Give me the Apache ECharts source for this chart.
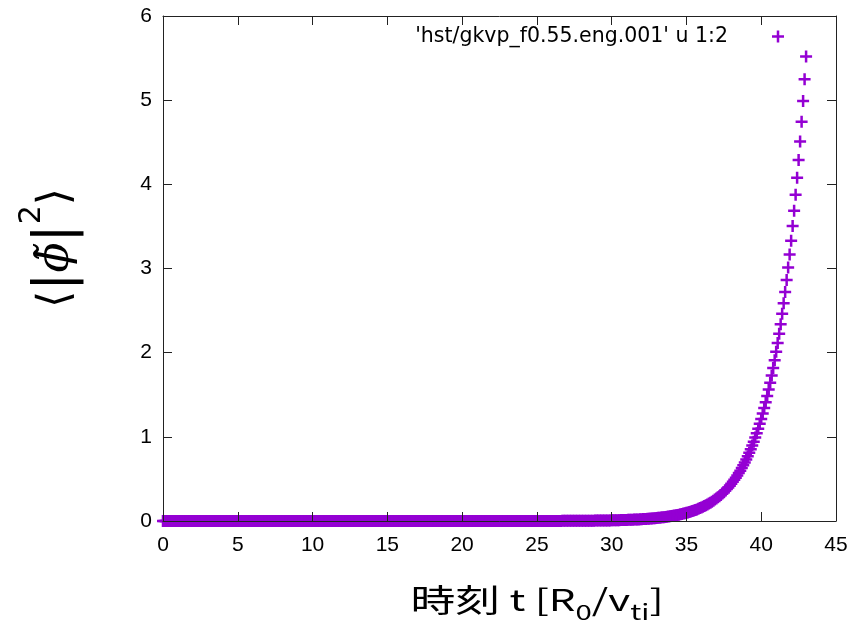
<!DOCTYPE html>
<html>
<head>
<meta charset="utf-8">
<script src="https://cdn.jsdelivr.net/npm/echarts@6/dist/echarts.min.js"></script>
<style>
  html, body { margin: 0; padding: 0; background: #fff; }
  #chart { width: 852px; height: 634px; }
</style>
</head>
<body>
<div id="chart"></div>
<script>
// Sampling interval of the energy history (time in R0/vti units)
const timeStep = 0.1;

// <|phi~|^2> sampled every timeStep, starting at t = 0
const phiSq = [
  // t = 0.0 .. 24.9
  0,0,0,0,0,0,0,0,0,0, 0,0,0,0,0,0,0,0,0,0, 0,0,0,0,0,0,0,0,0,0, 0,0,0,0,0,0,0,0,0,0, 0,0,0,0,0,0,0,0,0,0,
  0,0,0,0,0,0,0,0,0,0, 0,0,0,0,0,0,0,0,0,0, 0,0,0,0,0,0,0,0,0,0, 0,0,0,0,0,0,0,0,0,0, 0,0,0,0,0,0,0,0,0,0,
  0,0,0,0,0,0,0,0,0,0, 0,0,0,0,0,0,0,0,0,0, 0,0,0,0,0,0,0,0,0,0, 0,0,0,0,0,0,0,0,0,0, 0,0,0,0,0,0,0,0,0,0,
  0,0,0,0,0,0,0,0,0,0, 0,0,0,0,0,0,0,0,0,0, 0,0,0,0,0,0,0,0,0,0, 0,0,0,0,0,0,0,0,0,0, 0,0,0,0,0,0,0,0,0,0,
  0,0,0,0,0,0,0,0,0,0, 0,0,0,0,0,0,0,0,0,0, 0,0,0,0,0,0,0,0,0,0, 0,0,0,0,0,0,0,0,0,0, 0,0,0,0,0,0,0,0,0,0,
  // t = 25.0
  0.0006,
  0.0007,0.0007,0.0007,0.0008,0.0008,0.0008,0.0009,0.0009,0.0010,0.0010,
  0.0011,0.0011,0.0012,0.0013,0.0013,0.0014,0.0015,0.0015,0.0016,0.0017,
  0.0018,0.0019,0.0020,0.0021,0.0022,0.0023,0.0024,0.0026,0.0027,0.0028,
  0.0030,0.0031,0.0033,0.0035,0.0036,0.0038,0.0040,0.0042,0.0045,0.0047,
  0.0049,0.0052,0.0055,0.0057,0.0060,0.0064,0.0067,0.0070,0.0074,0.0078,
  0.0082,0.0086,0.0090,0.0095,0.0100,0.0105,0.0111,0.0116,0.0123,0.0129,
  0.0136,0.0143,0.0150,0.0158,0.0166,0.0174,0.0184,0.0193,0.0203,0.0214,
  0.0225,0.0236,0.0248,0.0261,0.0275,0.0289,0.0304,0.0320,0.0336,0.0354,
  0.0372,0.0391,0.0412,0.0433,0.0455,0.0479,0.0504,0.0530,0.0557,0.0586,
  0.0617,0.0649,0.0682,0.0717,0.0755,0.0794,0.0835,0.0878,0.0924,0.0971,
  0.102,0.107,0.113,0.119,0.125,0.132,0.138,0.145,0.153,0.161,
  0.169,0.178,0.187,0.197,0.207,0.218,0.229,0.241,0.254,0.267,
  0.281,0.295,0.310,0.326,0.343,0.361,0.380,0.399,0.420,0.442,
  0.465,0.489,0.514,0.541,0.569,0.598,0.629,0.662,0.696,0.732,
  0.770,0.810,0.852,0.896,0.943,0.991,1.043,1.097,1.154,1.213,
  1.276,1.342,1.412,1.485,1.562,1.643,1.728,1.817,1.911,2.010,
  2.115,2.224,2.339,2.461,2.588,2.722,2.863,3.011,3.167,3.331,
  3.504,3.685,3.876,4.077,4.288,4.510,4.744,4.990,5.248,5.520
];

// Axis ranges and tick spacing
const xRange = [0, 45];
const xInterval = 5;
const yRange = [0, 6];
const yInterval = 1;

const seriesName = "'hst/gkvp_f0.55.eng.001' u 1:2";

// gnuplot-style "+" point as a filled cross
const plusPath = 'path://M9.5,0h5v9.5h9.5v5h-9.5v9.5h-5v-9.5h-9.5v-5h9.5z';
const pointColor = '#9400D3';

const points = phiSq.map((v, i) => [Math.round(i * timeStep * 10) / 10, v]);

function tickFont(extra) {
  return Object.assign({ fontFamily: 'Liberation Sans, Arial, sans-serif', fontSize: 21, color: '#000' }, extra || {});
}
function frameLine() {
  return { show: true, onZero: false, lineStyle: { color: '#222', width: 1 } };
}
function innerTick() {
  return { show: true, inside: true, length: 9, lineStyle: { color: '#222', width: 1 } };
}
function makeAxis(position, range, interval, label) {
  return {
    type: 'value',
    position: position,
    min: range[0],
    max: range[1],
    interval: interval,
    z: 5,
    axisLine: frameLine(),
    axisTick: innerTick(),
    splitLine: { show: false },
    axisLabel: label
  };
}

const chart = echarts.init(document.getElementById('chart'), null, { renderer: 'canvas' });

chart.setOption({
  animation: false,
  backgroundColor: '#fff',
  grid: { left: 163, right: 16, top: 16, bottom: 113 },
  legend: {
    data: [{ name: seriesName, icon: plusPath }],
    align: 'right',
    right: 63,
    top: 21,
    itemWidth: 12,
    itemHeight: 12,
    textStyle: {
      fontFamily: 'DejaVu Sans',
      fontSize: 20.5,
      color: '#000',
      padding: [0, 39, 0, 0]
    }
  },
  xAxis: [
    makeAxis('bottom', xRange, xInterval, tickFont({ margin: 14 })),
    makeAxis('top', xRange, xInterval, { show: false })
  ],
  yAxis: [
    makeAxis('left', yRange, yInterval, tickFont({ margin: 11 })),
    makeAxis('right', yRange, yInterval, { show: false })
  ],
  series: [
    {
      name: seriesName,
      type: 'scatter',
      xAxisIndex: 0,
      yAxisIndex: 0,
      data: points,
      symbol: plusPath,
      symbolSize: 12,
      clip: false,
      z: 2,
      itemStyle: { color: pointColor, opacity: 1 }
    }
  ],
  graphic: [
    {
      type: 'text',
      x: 57,
      y: 248,
      rotation: Math.PI / 2,
      style: {
        text: '{b|\u27E8}{v||}{p|\u03D5\u0303}{v||}{s|2}{b|\u27E9}',
        align: 'center',
        verticalAlign: 'middle',
        rich: {
          b: { fontFamily: 'DejaVu Sans', fontSize: 44, fill: '#000', lineHeight: 80 },
          v: { fontFamily: 'DejaVu Sans', fontSize: 54, fill: '#000', lineHeight: 80 },
          p: { fontFamily: 'DejaVu Serif', fontStyle: 'italic', fontSize: 44, fill: '#000', lineHeight: 80 },
          s: { fontFamily: 'DejaVu Sans', fontSize: 30, fill: '#000', verticalAlign: 'top', lineHeight: 34 }
        }
      }
    },
    {
      type: 'text',
      x: 537,
      y: 600,
      scaleX: 1.4,
      style: {
        text: '{k|時刻}{a| t [R}{sub|0}{a|/v}{sub|ti}{a|]}',
        align: 'center',
        verticalAlign: 'middle',
        rich: {
          k: { fontFamily: 'Noto Sans CJK JP', fontSize: 32, fill: '#000', lineHeight: 46 },
          a: { fontFamily: 'Noto Sans CJK JP', fontSize: 30, fill: '#000', lineHeight: 46 },
          sub: { fontFamily: 'Noto Sans CJK JP', fontSize: 21, fill: '#000', verticalAlign: 'bottom', lineHeight: 40 }
        }
      }
    }
  ]
});
</script>
</body>
</html>
